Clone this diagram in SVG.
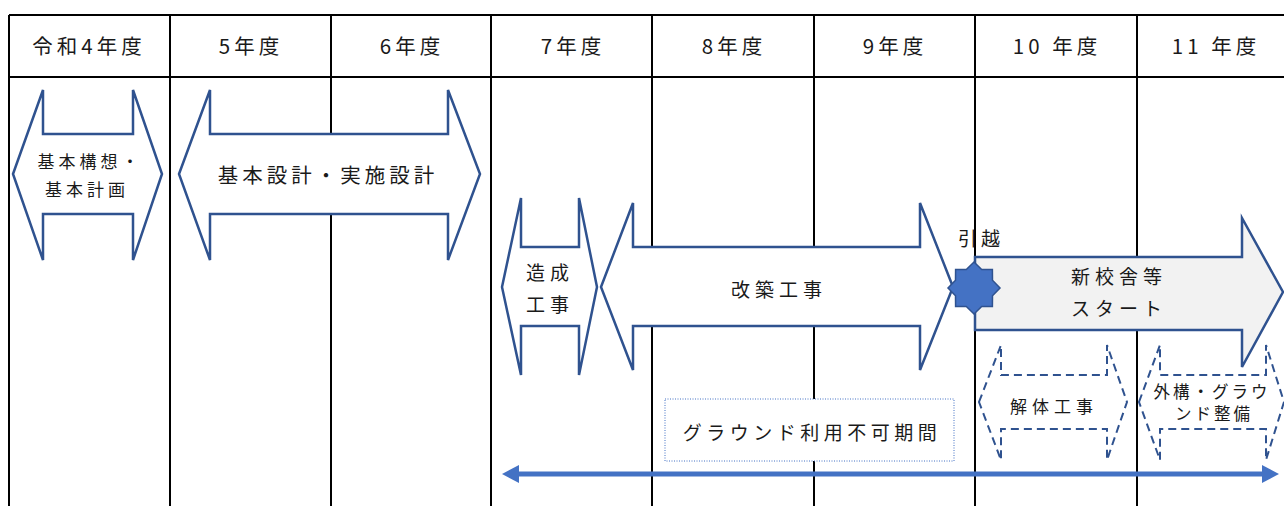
<svg xmlns="http://www.w3.org/2000/svg" width="1284" height="506" viewBox="0 0 1284 506">
<style>
text{font-family:"Noto Sans CJK JP","Noto Sans",sans-serif;fill:#1a1a1a;text-anchor:middle}
.grid{stroke:#000;stroke-width:2;fill:none}
.hd{font-size:20.5px;letter-spacing:4px}
.arr{fill:#fff;stroke:#2f528f;stroke-width:2.5;stroke-linejoin:miter}
.dash{fill:#fff;stroke:#2f528f;stroke-width:2;stroke-dasharray:8 5}
.lbl{font-size:19px;letter-spacing:5px}
</style>
<rect width="1284" height="506" fill="#fff"/>
<g id="table">
<path class="grid" d="M9,15H1284M9,77H1284M9,15V506M170,15V506M331,15V506M491,15V506M652,15V506M814,15V506M975,15V506M1137,15V506"/>
<text class="hd" x="89" y="54">令和4年度</text>
<text class="hd" x="251" y="54">5年度</text>
<text class="hd" x="412" y="54">6年度</text>
<text class="hd" x="573" y="54">7年度</text>
<text class="hd" x="734" y="54">8年度</text>
<text class="hd" x="895" y="54">9年度</text>
<text class="hd" x="1057" y="54">10 年度</text>
<text class="hd" x="1216" y="54">11 年度</text>
</g>
<g id="kihonkoso">
<polygon class="arr" points="13,174 43,90 43,134 133,134 133,90 162,174 133,260 133,214 43,214 43,260"/>
<text style="font-size:17px;letter-spacing:4px" x="90" y="168">基本構想・</text>
<text style="font-size:17px;letter-spacing:4px" x="87" y="196">基本計画</text>
</g>
<g id="kihonsekkei">
<polygon class="arr" points="179,174 210,90 210,134 448,134 448,90 480,174 448,260 448,214 210,214 210,260"/>
<text style="font-size:20.5px;letter-spacing:4px" x="328" y="183">基本設計・実施設計</text>
</g>
<g id="zosei">
<polygon class="arr" points="502,287 521,198 521,247 579,247 579,198 597,287 579,375 579,326 521,326 521,375"/>
<text class="lbl" x="550" y="280">造成</text>
<text class="lbl" x="550" y="312">工事</text>
</g>
<g id="kaichiku">
<polygon class="arr" points="601,287 633,203 633,247 920,247 920,203 953,287 920,370 920,326 633,326 633,370"/>
<text class="lbl" x="779" y="297">改築工事</text>
</g>
<g id="shinkosha">
<polygon points="975,257 1242,257 1242,218 1283,292 1242,367 1242,330 975,330" fill="#f2f2f2" stroke="#2f528f" stroke-width="2.5"/>
<text class="lbl" x="1119" y="284">新校舎等</text>
<text class="lbl" x="1119" y="316">スタート</text>
</g>
<g id="hikkoshi">
<polygon points="974,262 981.7,269.5 992.4,269.6 992.5,280.3 1000,288 992.5,295.7 992.4,306.4 981.7,306.5 974,314 966.3,306.5 955.6,306.4 955.5,295.7 948,288 955.5,280.3 955.6,269.6 966.3,269.5" fill="#4472c4" stroke="#2f528f" stroke-width="1.5"/>
<text style="font-size:19px;letter-spacing:4px" x="981" y="246">引越</text>
</g>
<g id="kaitai">
<polygon class="dash" points="979,402 1001,345 1001,375 1107,375 1107,345 1127,402 1107,460 1107,429 1001,429 1001,460"/>
<text style="font-size:17px;letter-spacing:5px" x="1054" y="413">解体工事</text>
</g>
<g id="gaiko">
<polygon class="dash" points="1139,402 1160,345 1160,375 1266,375 1266,345 1284,402 1266,460 1266,429 1160,429 1160,460"/>
<text style="font-size:16.5px;letter-spacing:3px" x="1212" y="398">外構・グラウ</text>
<text style="font-size:16.5px;letter-spacing:3px" x="1214" y="420">ンド整備</text>
</g>
<g id="ground">
<rect x="665" y="399" width="289" height="62" fill="#fff" stroke="#4472c4" stroke-width="1" stroke-dasharray="1 1.5"/>
<text style="font-size:19px;letter-spacing:4.5px" x="812" y="440">グラウンド利用不可期間</text>
</g>
<g id="connectors">
<line x1="516" y1="474" x2="1265" y2="474" stroke="#4472c4" stroke-width="5"/>
<polygon points="502,474 519,465 519,483" fill="#4472c4"/>
<polygon points="1279,474 1262,465 1262,483" fill="#4472c4"/>
</g>
</svg>
